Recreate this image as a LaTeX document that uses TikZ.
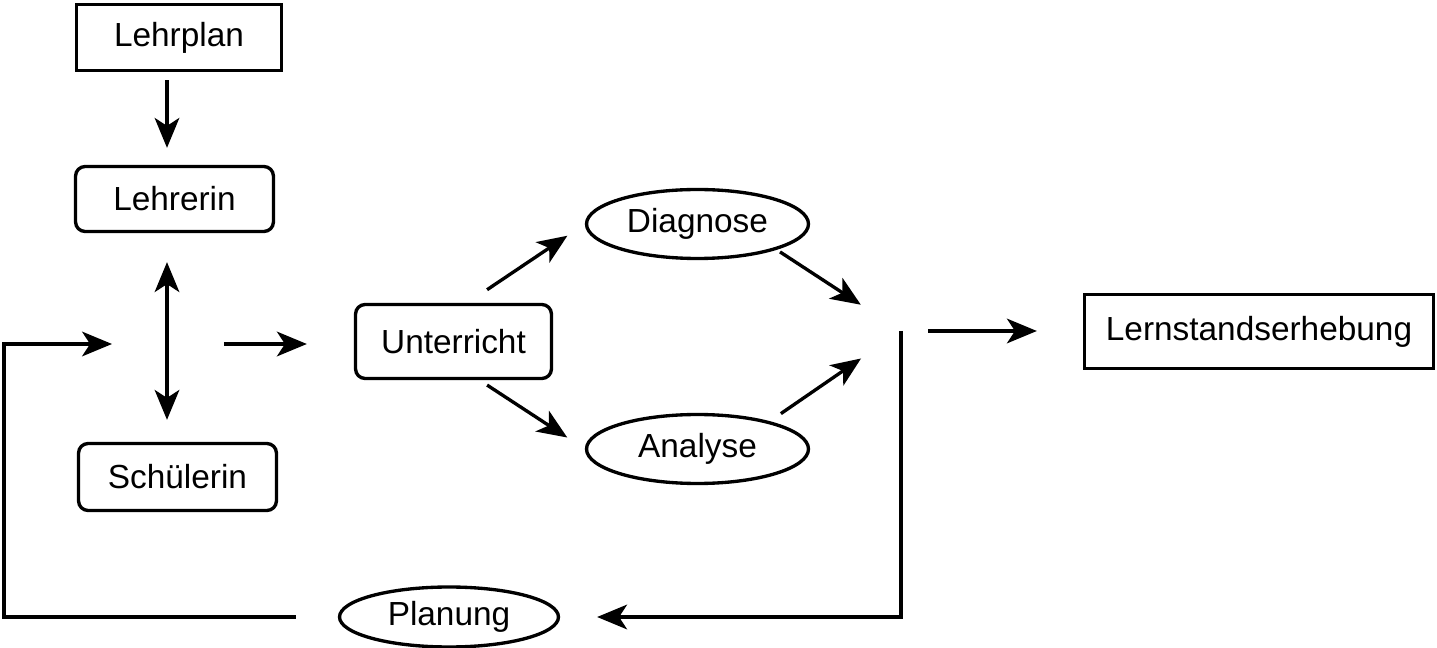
\documentclass[tikz,border=0pt]{standalone}
\usepackage{fontspec}
\setmainfont{Liberation Sans}
\usetikzlibrary{arrows.meta}
\usetikzlibrary{shapes.geometric}

\tikzset{
    box/.style={draw=black, line width=1.9pt, inner sep=0pt, font=\fontsize{19}{23}\selectfont},
    roundbox/.style={box, rounded corners=5.5pt},
    oval/.style={box, ellipse},
    arr/.style={black, line width=1.9pt, -{Stealth[length=17pt, width=14pt, inset=4.5pt]}},
    twoarr/.style={black, line width=1.9pt, {Stealth[length=17pt, width=14pt, inset=4.5pt]}-{Stealth[length=17pt, width=14pt, inset=4.5pt]}},
}

\begin{document}
\begin{tikzpicture}[x=0.02cm, y=-0.02cm]
        \useasboundingbox (0,0) rectangle (1437,648);

        \node[box, minimum width=4.1cm, minimum height=1.32cm] (lehrplan) at (179,37.5) {Lehrplan};
        \node[roundbox, minimum width=3.96cm, minimum height=1.3cm] (lehrerin) at (174.5,199) {Lehrerin};
        \node[roundbox, minimum width=3.96cm, minimum height=1.34cm] (schuelerin) at (177.5,477) {Schülerin};
        \node[roundbox, minimum width=3.92cm, minimum height=1.48cm] (unterricht) at (453.5,341.5) {Unterricht};
        \node[oval, minimum width=4.44cm, minimum height=1.38cm] (diagnose) at (697.5,224) {Diagnose};
        \node[oval, minimum width=4.44cm, minimum height=1.38cm] (analyse) at (697.5,449) {Analyse};
        \node[oval, minimum width=4.38cm, minimum height=1.2cm] (planung) at (449,617) {Planung};
        \node[box, minimum width=6.98cm, minimum height=1.48cm] (lernstand) at (1259,331.5) {Lernstandserhebung};

        \coordinate (hub) at (167,344);
        \coordinate (merge) at (901,331);
        \coordinate (loopcorner) at (4,344);

        \draw[arr, shorten <=0.16cm, shorten >=0.34cm] (lehrplan.south -| hub) -- (lehrerin.north -| hub);
        \draw[twoarr, shorten <=0.58cm, shorten >=0.44cm] (lehrerin.south -| hub) -- (schuelerin.north -| hub);
        \draw[arr, shorten <=1.14cm, shorten >=0.94cm] (hub) -- (hub -| unterricht.west);
        \draw[arr, shorten <=0.84cm, shorten >=1.1cm] (planung.west) -| (loopcorner) -- (hub);

        \draw[arr, shorten <=0.47cm, shorten >=0.42cm] (unterricht.70) -- (diagnose.west);
        \draw[arr, shorten <=0.18cm, shorten >=0.42cm] (unterricht.-56) -- (analyse.west);
        \draw[arr, shorten <=0.08cm, shorten >=0.96cm] (diagnose.-18) -- (merge);
        \draw[arr, shorten <=0.27cm, shorten >=0.97cm] (analyse.21) -- (merge);

        \draw[arr, shorten <=0.54cm, shorten >=0.92cm] (merge) -- (merge -| lernstand.west);
        \draw[arr, shorten >=0.74cm] (merge) |- (planung.east);

    \end{tikzpicture}
\end{document}
